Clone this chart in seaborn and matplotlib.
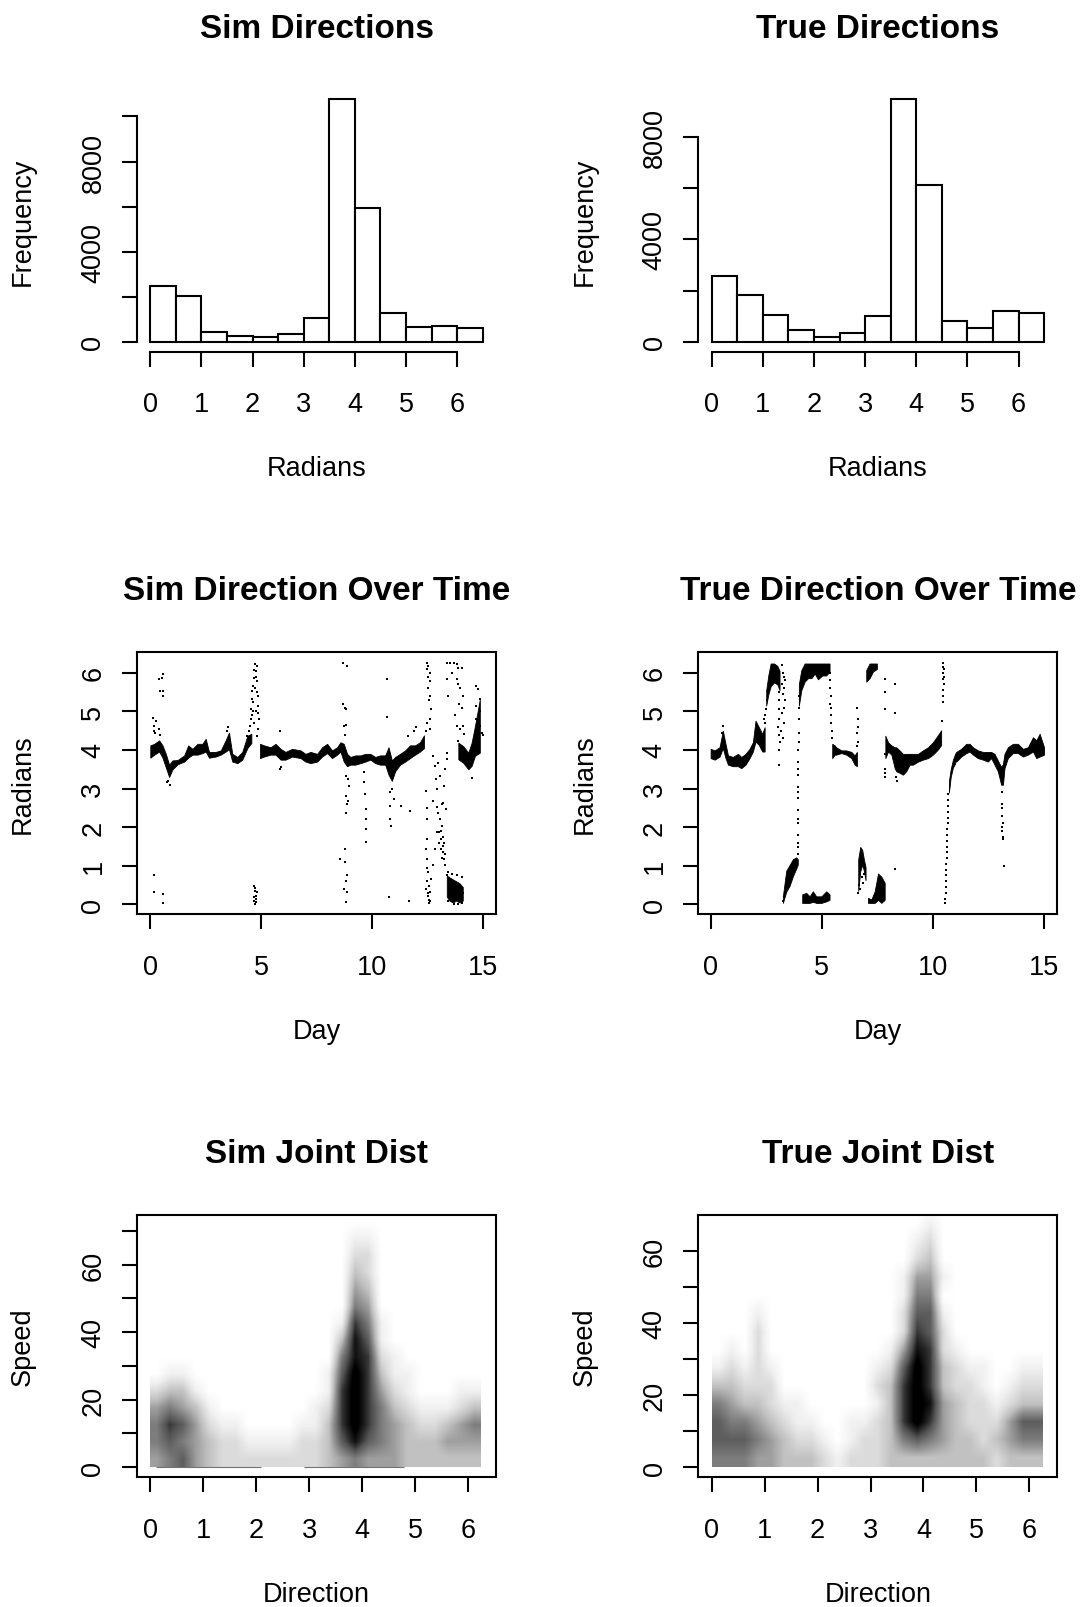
import numpy as np
import pandas as pd
import matplotlib
matplotlib.use("Agg")
import matplotlib.pyplot as plt
import seaborn as sns

sns.set_style("white")
plt.rcParams["font.family"] = ["Liberation Sans", "DejaVu Sans"]
plt.rcParams["text.color"] = "black"
plt.rcParams["axes.labelcolor"] = "black"
plt.rcParams["xtick.color"] = "black"
plt.rcParams["ytick.color"] = "black"

# ---------------- data ----------------
bin_edges = [0.0, 0.5, 1.0, 1.5, 2.0, 2.5, 3.0, 3.5, 4.0, 4.5, 5.0, 5.5, 6.0, 6.5]
sim_counts = [2489, 2015, 415, 252, 207, 326, 1037, 10756, 5941, 1289, 667, 711, 607]
true_counts = [2580, 1824, 1042, 443, 182, 326, 1016, 9459, 6124, 795, 521, 1186, 1134]

# Sim direction over time: dense bands (day, low, high)
sim_bands = [
    ([0, 0.18, 0.40, 0.55, 0.70, 0.85, 1.0, 1.23, 1.53, 1.71, 1.90, 2.13, 2.35, 2.50, 2.65, 2.95, 3.18, 3.40, 3.55, 3.70, 3.93, 4.15, 4.38, 4.56],
     [3.80, 3.88, 3.96, 3.80, 3.55, 3.30, 3.50, 3.63, 3.70, 3.80, 3.88, 3.88, 3.92, 3.96, 3.80, 3.83, 3.88, 3.96, 4.02, 3.70, 3.66, 3.75, 4.05, 4.18],
     [4.12, 4.16, 4.25, 4.12, 3.90, 3.62, 3.73, 3.74, 3.86, 4.12, 4.03, 4.16, 4.16, 4.29, 3.95, 3.95, 3.99, 4.25, 4.45, 3.90, 3.82, 3.95, 4.37, 4.42]),
    ([4.95, 5.13, 5.43, 5.65, 5.88, 6.1, 6.4, 6.78, 7.0, 7.23, 7.53, 7.75, 7.98, 8.2, 8.43, 8.58, 8.73, 8.88, 9.03, 9.25, 9.48, 9.7, 9.93, 10.15, 10.37, 10.6, 10.75, 10.9, 11.05, 11.27, 11.5, 11.72, 11.95, 12.17, 12.35],
     [3.79, 3.83, 3.88, 3.88, 3.75, 3.75, 3.83, 3.79, 3.70, 3.66, 3.70, 3.83, 3.92, 3.79, 3.88, 3.96, 3.70, 3.58, 3.62, 3.62, 3.66, 3.70, 3.75, 3.66, 3.62, 3.62, 3.36, 3.20, 3.45, 3.62, 3.70, 3.79, 3.88, 3.96, 4.05],
     [4.16, 4.12, 4.07, 4.16, 4.03, 3.95, 4.03, 3.99, 3.90, 3.95, 3.90, 4.07, 4.16, 3.99, 4.07, 4.20, 4.16, 3.90, 3.82, 3.86, 3.86, 3.90, 3.90, 3.82, 3.86, 3.86, 4.07, 3.73, 3.82, 3.90, 3.99, 4.12, 4.12, 4.20, 4.38]),
    ([13.38, 13.5, 13.65, 13.8, 13.95, 14.1],
     [0.20, 0.10, 0.05, 0.10, 0.05, 0.10],
     [0.75, 0.70, 0.65, 0.60, 0.55, 0.45]),
    ([13.9, 14.12, 14.35, 14.5, 14.65, 14.87],
     [3.76, 3.67, 3.50, 3.59, 3.85, 3.93],
     [4.19, 4.10, 3.93, 4.19, 4.62, 5.31]),
]
sim_dots = [
    (0.12, 4.84), (0.15, 4.62), (0.18, 4.5), (0.2, 4.45), (0.25, 4.75), (0.38, 4.55), (0.45, 4.4),
    (0.40, 5.83), (0.52, 5.87), (0.58, 5.98), (0.43, 5.52), (0.58, 5.52), (0.58, 5.4),
    (0.18, 0.75), (0.18, 0.32), (0.58, 0.27), (0.58, 0.04),
    (0.75, 3.16), (0.9, 3.1), (0.8, 3.2), (3.5, 4.6), (3.48, 4.5),
    (4.38, 4.36), (4.45, 4.49), (4.53, 4.79), (4.56, 5.05), (4.6, 5.31), (4.6, 5.52), (4.65, 5.65),
    (4.68, 5.87), (4.68, 6.08), (4.72, 6.22), (4.8, 6.17), (4.83, 5.78), (4.86, 5.4), (4.86, 5.14),
    (4.9, 4.79), (4.87, 4.54), (4.83, 4.36), (4.75, 5.0), (4.65, 5.23), (4.71, 5.6), (4.5, 4.62),
    (4.62, 5.0), (4.78, 5.9), (4.8, 5.5), (4.85, 4.95), (4.58, 4.9), (4.7, 4.7), (4.76, 6.05),
    (4.68, 0.49), (4.71, 0.36), (4.75, 0.23), (4.68, 0.1), (4.77, 0.06), (4.72, 0.02), (4.8, 0.32),
    (4.7, 0.19), (4.74, 0.42), (4.78, 0.15),
    (5.85, 4.5), (5.85, 3.5), (5.9, 3.55),
    (8.7, 6.26), (8.88, 6.17), (8.68, 5.2), (8.77, 5.1), (8.83, 5.05), (8.72, 4.62), (8.83, 4.66), (8.8, 4.4),
    (8.83, 3.33), (8.9, 3.24), (8.95, 3.07), (8.85, 2.81), (8.92, 2.69), (8.82, 2.38), (8.87, 2.6),
    (8.58, 1.18), (8.77, 1.09), (8.88, 0.75), (8.73, 0.4), (8.88, 0.32), (8.83, 0.06), (8.8, 1.44), (8.85, 0.6),
    (9.63, 3.42), (9.66, 3.16), (9.7, 2.86), (9.73, 2.47), (9.73, 2.21), (9.73, 1.95), (9.75, 1.61),
    (10.7, 5.83), (10.7, 4.86), (10.75, 0.19), (10.8, 2.9), (10.83, 2.56), (10.83, 2.21), (10.86, 2.04),
    (11.0, 2.73), (10.9, 3.0), (11.32, 2.56), (11.72, 2.43), (11.66, 0.08), (11.65, 4.36), (11.88, 4.49), (12.0, 4.6),
    (12.47, 6.26), (12.55, 6.17), (12.6, 6.0), (12.63, 5.78), (12.63, 5.4), (12.66, 5.05), (12.6, 4.79),
    (12.55, 5.6), (12.45, 4.5), (12.5, 4.7), (12.5, 6.1), (12.52, 5.9), (12.58, 5.3), (12.6, 4.55),
    (12.44, 2.95), (12.47, 2.21), (12.44, 1.44), (12.5, 1.18), (12.55, 0.83), (12.59, 0.49), (12.55, 0.23),
    (12.63, 0.1), (12.6, 0.32), (12.68, 0.66), (12.5, 1.7), (12.45, 0.4), (12.5, 0.6), (12.57, 0.05),
    (12.47, 0.95), (12.52, 0.3), (12.56, 0.12), (12.48, 2.5),
    (12.77, 3.85), (12.85, 3.59), (12.9, 3.24), (12.93, 2.99), (12.77, 2.69), (12.95, 2.52), (13.0, 2.38),
    (13.07, 2.21), (13.15, 2.04), (13.05, 1.87), (13.1, 1.7), (13.2, 1.52), (13.22, 1.35), (13.25, 1.18),
    (13.3, 1.01), (12.93, 1.87), (12.85, 1.44), (12.77, 1.01), (13.37, 3.93), (13.37, 3.76), (13.3, 3.5),
    (13.27, 3.07), (13.22, 2.64), (13.15, 2.6), (13.07, 3.33), (13.0, 3.67), (13.33, 2.47), (13.1, 1.44),
    (13.17, 1.2), (13.02, 1.6), (13.12, 1.9), (13.2, 1.75), (13.25, 1.6), (13.28, 1.3),
    (13.4, 0.75), (13.45, 0.85), (13.62, 0.8), (13.85, 0.75), (14.05, 0.7), (14.12, 0.3), (13.42, 0.1),
    (13.7, 0.02), (13.9, 0.02), (14.08, 0.05),
    (13.4, 6.26), (13.52, 6.26), (13.7, 6.26), (13.82, 6.22), (13.9, 6.13), (14.05, 6.13), (13.4, 5.83),
    (13.45, 5.4), (13.82, 5.83), (13.9, 5.7), (13.97, 5.6), (13.95, 5.2), (14.05, 5.1), (13.85, 4.62),
    (13.97, 4.54), (14.1, 4.62), (13.9, 4.23), (14.15, 4.41), (13.75, 4.9), (14.1, 5.4), (13.6, 6.0),
    (14.5, 3.28), (14.72, 5.65), (14.8, 5.57), (14.87, 5.31), (14.72, 5.14), (14.85, 4.88), (14.7, 4.79),
    (14.87, 4.62), (14.95, 4.45), (14.8, 4.28), (14.9, 5.0), (15.0, 4.4),
]

# True direction over time
true_bands = [
    ([0, 0.18, 0.40, 0.55, 0.67, 0.78, 1.0, 1.23, 1.38, 1.57, 1.75, 1.9, 2.02, 2.17, 2.32, 2.43],
     [3.79, 3.75, 3.83, 4.05, 3.79, 3.62, 3.58, 3.58, 3.53, 3.62, 3.79, 3.96, 4.22, 4.13, 3.96, 3.96],
     [4.03, 3.99, 4.07, 4.50, 4.16, 3.86, 3.82, 3.90, 3.82, 3.90, 4.03, 4.20, 4.76, 4.59, 4.42, 4.59]),
    ([2.5, 2.6, 2.7, 2.85, 3.0, 3.1],
     [5.15, 5.45, 5.65, 5.75, 5.7, 5.55],
     [5.55, 5.95, 6.24, 6.24, 6.18, 6.05]),
    ([3.25, 3.4, 3.55, 3.7, 3.85, 3.92],
     [0.04, 0.33, 0.48, 0.73, 0.93, 1.03],
     [0.21, 0.87, 1.02, 1.17, 1.22, 1.17]),
    ([3.97, 4.08, 4.23, 4.38, 4.53, 4.68, 4.83, 5.02, 5.2, 5.35],
     [5.15, 5.55, 5.77, 5.86, 5.86, 5.98, 5.83, 5.93, 5.93, 6.03],
     [5.71, 6.07, 6.24, 6.24, 6.24, 6.24, 6.24, 6.24, 6.24, 6.24]),
    ([4.12, 4.3, 4.45, 4.6, 4.75, 4.98, 5.2, 5.35],
     [0.04, 0.04, 0.04, 0.07, 0.04, 0.04, 0.08, 0.12],
     [0.26, 0.30, 0.21, 0.34, 0.21, 0.21, 0.34, 0.26]),
    ([5.47, 5.58, 5.65, 5.88, 6.1, 6.33, 6.48, 6.58],
     [3.79, 3.88, 3.88, 3.92, 3.88, 3.79, 3.62, 3.58],
     [4.16, 4.12, 4.07, 3.99, 3.99, 3.95, 3.86, 3.95]),
    ([6.64, 6.73, 6.82, 6.9, 6.97],
     [0.35, 0.86, 1.03, 0.86, 0.63],
     [1.17, 1.49, 1.41, 1.15, 0.97]),
    ([7.0, 7.15, 7.3, 7.48],
     [5.77, 5.86, 6.03, 6.1],
     [6.07, 6.24, 6.24, 6.24]),
    ([7.08, 7.23, 7.38, 7.53, 7.68, 7.83],
     [0.04, 0.04, 0.04, 0.12, 0.04, 0.12],
     [0.17, 0.13, 0.34, 0.80, 0.72, 0.56]),
    ([7.86, 7.98, 8.13, 8.28, 8.35, 8.5, 8.65, 8.8, 8.95],
     [3.79, 3.96, 3.88, 3.53, 3.45, 3.41, 3.36, 3.45, 3.62],
     [4.37, 4.20, 4.12, 4.07, 4.07, 3.99, 3.90, 3.90, 3.90]),
    ([8.95, 9.1, 9.33, 9.55, 9.78, 10.0, 10.22, 10.37],
     [3.62, 3.62, 3.70, 3.75, 3.79, 3.88, 4.01, 4.13],
     [3.90, 3.90, 3.90, 3.99, 4.07, 4.20, 4.38, 4.51]),
    ([10.72, 10.8, 10.9, 11.0],
     [2.9, 3.3, 3.55, 3.65],
     [3.2, 3.5, 3.75, 3.9]),
    ([11.0, 11.05, 11.27, 11.5, 11.65, 11.8, 12.02, 12.25, 12.47, 12.62, 12.77, 12.92, 13.07, 13.15, 13.22, 13.37, 13.6, 13.82, 14.05, 14.27, 14.5, 14.65, 14.8, 15.0],
     [3.70, 3.70, 3.83, 3.92, 3.96, 3.88, 3.79, 3.75, 3.70, 3.79, 3.62, 3.45, 3.10, 3.10, 3.53, 3.79, 3.92, 3.92, 3.83, 3.88, 3.96, 3.79, 3.83, 3.88],
     [3.90, 3.95, 4.03, 4.16, 4.16, 4.07, 3.99, 3.95, 3.95, 3.95, 3.90, 3.73, 3.56, 3.64, 3.90, 4.07, 4.16, 4.16, 4.03, 4.07, 4.33, 4.25, 4.42, 4.07]),
]
true_dots = [
    (0.55, 4.62), (0.52, 4.45),
    (2.45, 4.9), (2.5, 5.05), (2.55, 5.3), (2.6, 5.5), (2.45, 4.7), (2.4, 4.8),
    (3.07, 5.5), (3.07, 5.3), (3.07, 5.05), (3.07, 4.79), (3.05, 4.6), (3.07, 4.4), (3.1, 4.2), (3.07, 3.6), (3.07, 4.0),
    (3.2, 6.2), (3.25, 6.0), (3.3, 5.9), (3.22, 5.7), (3.3, 5.6), (3.25, 5.45), (3.33, 5.3), (3.28, 5.1),
    (3.22, 4.95), (3.35, 5.8), (3.3, 4.7), (3.18, 4.5), (3.27, 4.3),
    (3.93, 1.3), (3.93, 1.5), (3.93, 1.8), (3.94, 2.1), (3.94, 2.45), (3.94, 2.75), (3.95, 3.05), (3.95, 3.35),
    (3.95, 3.7), (3.95, 4.0), (3.96, 4.45), (3.97, 4.8), (3.97, 5.1), (3.98, 5.4), (3.96, 4.2), (3.95, 3.5),
    (3.94, 2.9), (3.94, 2.2), (3.93, 1.6), (3.25, 0.1), (3.28, 0.2),
    (5.35, 6.0), (5.37, 5.8), (5.38, 5.6), (5.4, 5.4), (5.42, 5.1), (5.4, 4.9), (5.43, 4.7), (5.45, 4.5), (5.45, 4.3), (5.38, 5.2),
    (6.6, 5.1), (6.62, 4.8), (6.62, 4.6), (6.6, 4.45), (6.62, 4.2), (6.58, 4.1),
    (6.64, 0.3), (6.66, 0.5), (6.7, 0.4), (6.8, 0.7), (6.85, 0.55), (6.9, 0.8),
    (7.86, 5.83), (7.86, 5.5), (7.86, 5.05), (7.86, 3.9), (7.86, 3.5), (7.86, 3.3), (7.86, 3.4),
    (8.3, 5.7), (8.3, 4.97), (8.3, 0.92), (8.4, 3.2), (8.35, 3.3),
    (10.45, 6.26), (10.45, 6.15), (10.47, 6.0), (10.45, 5.85), (10.48, 5.7), (10.46, 5.55), (10.45, 5.4),
    (10.47, 5.25), (10.5, 6.1), (10.43, 4.75), (10.48, 5.9),
    (10.55, 0.05), (10.56, 0.15), (10.57, 0.3), (10.58, 0.45), (10.59, 0.6), (10.6, 0.75), (10.6, 0.9),
    (10.61, 1.05), (10.62, 1.2), (10.62, 1.35), (10.63, 1.5), (10.63, 1.65), (10.64, 1.8), (10.65, 1.95),
    (10.66, 2.1), (10.66, 2.25), (10.67, 2.4), (10.68, 2.55), (10.69, 2.7), (10.7, 2.85),
    (13.1, 2.9), (13.12, 2.6), (13.13, 2.3), (13.15, 2.1), (13.13, 1.9), (13.15, 1.75), (13.17, 1.7),
    (13.12, 2.0), (13.2, 1.0), (13.1, 2.5),
]

# Joint distributions: darkness (0-9) per cell, 0.25 rad x 5 speed, rows from 70-75 down to 0-5
sim_joint_rows = [
    "0000000000000000000000000",
    "0000000000000001100000000",
    "0000000000000002200000000",
    "0000000000000003200000000",
    "0000000000000004300000000",
    "0000000000000005400000000",
    "0000000000000017510000000",
    "0000000000000038610000000",
    "0000000000000058721000000",
    "0110000000000169731100000",
    "2331000000000179742100011",
    "4543100000001279753211123",
    "5764211000011379754322345",
    "5654322111122368654333444",
    "4564322222222345444333333",
]
true_joint_rows = [
    "0000000000000000000000000",
    "0000000000000000100000000",
    "0000000000000001200000000",
    "0000000000000002300000000",
    "0000000000000014410000000",
    "0000000000000015500000000",
    "0001000000000026610000000",
    "0002000000000027620000000",
    "0102000000000148721000000",
    "1212100000001269732110011",
    "3322200000002379732210122",
    "5433211000001379843221233",
    "6554321100112379743222466",
    "6665432210122356543323455",
    "5554433321222333333332333",
]
sim_zero_speed_runs = [(0.1, 2.1), (2.9, 4.8)]

# ---------------- layout ----------------
W, H = 1086, 1608
fig = plt.figure(figsize=(W / 100, H / 100), dpi=100)
PX = 0.72  # points per pixel

col_left = [137.0, 698.4]
ax_w = 359.0
row_top = [90.7, 653.3, 1216.0]
ax_h = 261.8

def make_ax(col, row):
    l = col_left[col] / W
    b = 1 - (row_top[row] + ax_h) / H
    return fig.add_axes([l, b, ax_w / W, ax_h / H])

def style(ax, title, xlabel, ylabel, box=True):
    for s in ax.spines.values():
        s.set_linewidth(1.5)
        s.set_color("black")
        s.set_visible(box)
    ax.tick_params(axis="both", direction="out", length=15 * PX, width=1.5,
                   labelsize=19.5, colors="black", left=True, bottom=True)
    ax.tick_params(axis="x", pad=25 * PX)
    ax.tick_params(axis="y", pad=15.6 * PX)
    ax.annotate(title, xy=(0.5, 1), xycoords="axes fraction", xytext=(0, 53 * PX),
                textcoords="offset points", ha="center", va="baseline",
                fontsize=24, fontweight="bold", color="black")
    ax.annotate(xlabel, xy=(0.5, 0), xycoords="axes fraction", xytext=(0, -124 * PX),
                textcoords="offset points", ha="center", va="baseline", fontsize=19.5,
                color="black")
    ax.annotate(ylabel, xy=(0, 0.5), xycoords="axes fraction", xytext=(-107 * PX, 0),
                textcoords="offset points", ha="center", va="baseline", rotation=90,
                rotation_mode="anchor", fontsize=19.5, color="black")
    ax.set_xlabel("")
    ax.set_ylabel("")

def set_yticks(ax, ticks, labels):
    ax.set_yticks(ticks)
    ax.set_yticklabels(labels, rotation=90, va="center", ha="right")

# ---- histograms ----
centers = [(a + b) / 2 for a, b in zip(bin_edges[:-1], bin_edges[1:])]
for col, counts, title, yt in [
    (0, sim_counts, "Sim Directions", [0, 2000, 4000, 6000, 8000, 10000]),
    (1, true_counts, "True Directions", [0, 2000, 4000, 6000, 8000]),
]:
    ax = make_ax(col, 0)
    df = pd.DataFrame({"x": centers, "w": counts})
    sns.histplot(data=df, x="x", weights="w", bins=bin_edges, ax=ax, color="white",
                 edgecolor="black", linewidth=1.5, alpha=1.0)
    m = max(counts)
    ax.set_xlim(-0.26, 6.76)
    ax.set_ylim(-0.04 * m, 1.04 * m)
    style(ax, title, "Radians", "Frequency", box=False)
    ax.spines["left"].set_visible(True)
    ax.spines["bottom"].set_visible(True)
    ax.spines["left"].set_bounds(0, yt[-1])
    ax.spines["bottom"].set_bounds(0, 6)
    ax.set_xticks(range(7))
    ax.set_xticklabels([str(i) for i in range(7)])
    set_yticks(ax, yt, [str(v) if v % 4000 == 0 else "" for v in yt])

# ---- time series ----
for col, bands, dots, title in [
    (0, sim_bands, sim_dots, "Sim Direction Over Time"),
    (1, true_bands, true_dots, "True Direction Over Time"),
]:
    ax = make_ax(col, 1)
    for d, lo, hi in bands:
        ax.fill_between(d, lo, hi, color="black", linewidth=0.6, edgecolor="black")
    dd = pd.DataFrame(dots, columns=["day", "rad"])
    sns.scatterplot(data=dd, x="day", y="rad", ax=ax, color="black", s=3, marker="s",
                    linewidth=0, legend=False)
    ax.set_xlim(-0.6 if col == 0 else -0.55, 15.6)
    ax.set_ylim(-0.25, 6.53)
    style(ax, title, "Day", "Radians")
    ax.set_xticks([0, 5, 10, 15])
    ax.set_xticklabels(["0", "5", "10", "15"])
    set_yticks(ax, range(7), [str(i) for i in range(7)])

# ---- joint distributions ----
for col, rows, title, ylim, yt in [
    (0, sim_joint_rows, "Sim Joint Dist", (-2.85, 74.7), [0, 10, 20, 30, 40, 50, 60, 70]),
    (1, true_joint_rows, "True Joint Dist", (-2.65, 69.95), [0, 10, 20, 30, 40, 50, 60]),
]:
    ax = make_ax(col, 2)
    grid = np.array([[int(c) for c in r] for r in rows], dtype=float)
    ax.imshow(grid, extent=(0, 6.25, 0, 75), origin="upper", cmap="Greys", vmin=0, vmax=8.5,
              interpolation="bilinear", aspect="auto", zorder=0)
    if col == 0:
        for a, b in sim_zero_speed_runs:
            ax.hlines(0.2, a, b, color="0.45", linewidth=0.8, zorder=1)
    ax.set_xlim(-0.251, 6.53)
    ax.set_ylim(*ylim)
    style(ax, title, "Direction", "Speed")
    ax.set_xticks(range(7))
    ax.set_xticklabels([str(i) for i in range(7)])
    set_yticks(ax, yt, [str(v) if v % 20 == 0 else "" for v in yt])

fig.savefig("out.png", dpi=100)
